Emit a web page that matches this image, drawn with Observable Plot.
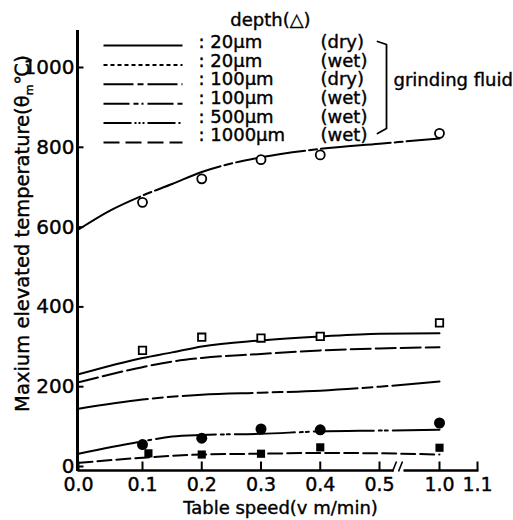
<!DOCTYPE html>
<html><head><meta charset="utf-8">
<script src="https://cdn.jsdelivr.net/npm/d3@7"></script>
<script src="https://cdn.jsdelivr.net/npm/@observablehq/plot@0.6"></script>
<style>body{margin:0;background:#fff}svg{display:block}</style>
</head><body><div id="chart"></div>
<script>
// ---- tick labels ----
const xTicks = [0, 0.1, 0.2, 0.3, 0.4, 0.5, 1.0, 1.1];
const xTickLabels = ["0.0", "0.1", "0.2", "0.3", "0.4", "0.5", "1.0", "1.1"];
const yTicks = [0, 200, 400, 600, 800, 1000];

// ---- measured points ----
const openCircleX = [0.1, 0.2, 0.3, 0.4, 1.0];
const openCircleY = [662, 721, 769, 781, 835];
const openSquareX = [0.1, 0.2, 0.3, 0.4, 1.0];
const openSquareY = [291, 324, 322, 326, 360];
const filledCircleX = [0.1, 0.2, 0.3, 0.4, 1.0];
const filledCircleY = [55, 71, 94, 92, 109];
const filledSquareX = [0.11, 0.2, 0.3, 0.4, 1.0];
const filledSquareY = [33, 30, 32, 48, 47];

// ---- calculated curves ----
const curveTopX = [0, 0.05, 0.1, 0.15, 0.2, 0.3, 0.4, 0.5, 1.0];
const curveTopY = [594, 642, 679, 708, 738, 775, 796, 809, 822];
const curveSolidX = [0, 0.1, 0.15, 0.2, 0.3, 0.4, 0.5, 1.0];
const curveSolidY = [231, 272, 286, 301, 316, 326, 333, 334];
const curveLongDashX = [0, 0.1, 0.15, 0.2, 0.3, 0.4, 0.5, 1.0];
const curveLongDashY = [211, 249, 263, 272, 282, 291, 296, 299];
const curveDashDotX = [0, 0.1, 0.2, 0.3, 0.4, 0.5, 1.0];
const curveDashDotY = [145, 168, 180, 185, 190, 200, 213];
const curveDashDotDotX = [0, 0.1, 0.15, 0.2, 0.3, 0.4, 0.5, 1.0];
const curveDashDotDotY = [32, 63, 75, 79, 82, 88, 90, 92];
const curveDashX = [0, 0.1, 0.2, 0.3, 0.4, 0.5, 1.0];
const curveDashY = [9, 22, 30, 32, 34, 33, 30];

// ---- legend ----
const legendDepths = ["20µm", "20µm", "100µm", "100µm", "500µm", "1000µm"];
const legendFluids = ["(dry)", "(wet)", "(dry)", "(wet)", "(wet)", "(wet)"];
const legendTitle = "depth(△)";
const bracketLabel = "grinding fluid";
const xLabel = "Table speed(v m/min)";
const yLabel = "Maxium elevated temperature(θm℃)";

// ---- scales (broken x axis via piecewise mapping) ----
const xDomain = [0, 0.1, 0.5, 1.0, 1.1];
const xRange = [78, 142, 379, 439, 477];
const yDomain = [0, 1000];
const yRange = [466, 67];
const xs = d3.scaleLinear().domain(xDomain).range(xRange);
const ys = d3.scaleLinear().domain(yDomain).range(yRange);
const X = p => xs.invert(p), Y = p => ys.invert(p);

const pts = (xa, ya) => xa.map((x, i) => ({x, y: ya[i]}));

const curves = [
  {data: pts(curveTopX, curveTopY), dash: "70,4,8,4"},
  {data: pts(curveSolidX, curveSolidY), dash: null},
  {data: pts(curveLongDashX, curveLongDashY), dash: "20,5"},
  {data: pts(curveDashDotX, curveDashDotY), dash: "70,5,10,5,10,5"},
  {data: pts(curveDashDotDotX, curveDashDotDotY), dash: "60,5,3,3,3,5"},
  {data: pts(curveDashX, curveDashY), dash: "14,5"}
];
const legendDash = [null, "4,3", "30,4,6,4", "26,4,5,3,2,4", "28,3,2,2,2,2,2,3", "16,6"];
const rowText = i => 42 + i * 18.6;
const rowLine = i => 45 + i * 19.4;

const legendRows = legendDepths.map((d, i) => ({i, depth: d, fluid: legendFluids[i]}));

const T = {fill: "black", stroke: "black", strokeWidth: 0.4, lineAnchor: "middle"};
const marks = [];
// curves
curves.forEach(c => {
  marks.push(Plot.line(c.data, {x: "x", y: "y", curve: "monotone-x", stroke: "black", strokeWidth: 2, strokeDasharray: c.dash || undefined}));
});
// axes
marks.push(Plot.ruleX([X(77)], {y1: Y(471), y2: Y(30), stroke: "black", strokeWidth: 3}));
marks.push(Plot.link([{a: 77, b: 393}, {a: 403, b: 478}], {x1: d => X(d.a), x2: d => X(d.b), y1: Y(470), y2: Y(470), stroke: "black", strokeWidth: 2.6}));
marks.push(Plot.link([{a: 392, b: 396}, {a: 398, b: 402}], {x1: d => X(d.a), x2: d => X(d.b), y1: Y(471), y2: Y(461), stroke: "black", strokeWidth: 1.6}));
marks.push(Plot.link(yTicks, {x1: X(76), x2: X(83), y1: d => d, y2: d => d, stroke: "black", strokeWidth: 2}));
marks.push(Plot.link(xTicks, {x1: d => d, x2: d => d, y1: Y(470), y2: Y(461), stroke: "black", strokeWidth: 2}));
marks.push(Plot.text(yTicks, {...T, x: X(74), y: d => d, text: d => String(d), textAnchor: "end", fontSize: 20}));
marks.push(Plot.text(xTicks, {...T, x: d => d, y: Y(484), text: (d, i) => xTickLabels[i], textAnchor: "middle", fontSize: 19}));
marks.push(Plot.text([xLabel], {...T, x: X(280), y: Y(508), text: d => d, textAnchor: "middle", fontSize: 18}));
marks.push(Plot.text([yLabel], {...T, x: X(22), y: Y(233), rotate: -90, text: d => d, textAnchor: "middle", fontSize: 19.5}));
// legend
marks.push(Plot.text([legendTitle], {...T, x: X(270), y: Y(20), text: d => d, textAnchor: "middle", fontSize: 18}));
legendRows.forEach(r => {
  marks.push(Plot.link([r], {x1: X(103), x2: X(182), y1: Y(rowLine(r.i)), y2: Y(rowLine(r.i)), stroke: "black", strokeWidth: 2, strokeDasharray: legendDash[r.i] || undefined}));
});
marks.push(Plot.text(legendRows, {...T, x: X(198), y: r => Y(rowText(r.i)), text: r => ": " + r.depth, textAnchor: "start", fontSize: 18}));
marks.push(Plot.text(legendRows, {...T, x: X(320), y: r => Y(rowText(r.i)), text: r => r.fluid, textAnchor: "start", fontSize: 18}));
marks.push(Plot.line([[377, 41], [386, 44], [386, 128], [377, 133]].map(([a, b]) => ({x: X(a), y: Y(b)})), {x: "x", y: "y", stroke: "black", strokeWidth: 1.8}));
marks.push(Plot.text([bracketLabel], {...T, x: X(393), y: Y(80), text: d => d, textAnchor: "start", fontSize: 18}));
// markers
marks.push(Plot.dot(pts(openCircleX, openCircleY), {x: "x", y: "y", r: 4.5, stroke: "black", fill: "white", strokeWidth: 1.8}));
marks.push(Plot.dot(pts(openSquareX, openSquareY), {x: "x", y: "y", symbol: "square", r: 4.2, stroke: "black", fill: "white", strokeWidth: 1.8}));
marks.push(Plot.dot(pts(filledCircleX, filledCircleY), {x: "x", y: "y", r: 5.5, fill: "black", stroke: "none"}));
marks.push(Plot.dot(pts(filledSquareX, filledSquareY), {x: "x", y: "y", symbol: "square", r: 4.6, fill: "black", stroke: "none"}));

const chart = Plot.plot({
  width: 513,
  height: 520,
  margin: 0,
  style: {fontFamily: "DejaVu Sans", background: "white", color: "black"},
  x: {type: "linear", domain: xDomain, range: xRange, axis: null},
  y: {type: "linear", domain: yDomain, range: yRange, axis: null},
  marks
});
document.getElementById("chart").appendChild(chart);

// subscript m and ℃ in the y label
d3.select(chart).selectAll("text").each(function () {
  if (this.textContent === yLabel) {
    const t = d3.select(this);
    t.text(null);
    t.append("tspan").text("Maxium elevated temperature(θ");
    t.append("tspan").attr("font-size", 11).attr("dy", 4).text("m");
    t.append("tspan").attr("dy", -4).text("℃)");
  }
});
</script>
</body></html>
